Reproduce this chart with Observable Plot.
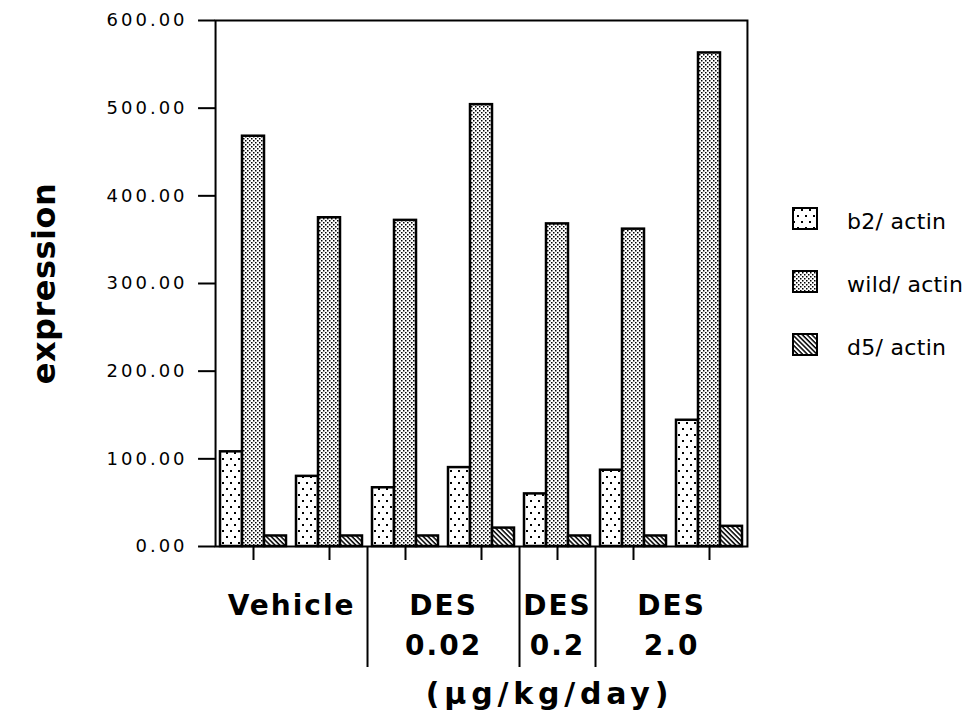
<!DOCTYPE html>
<html>
<head>
<meta charset="utf-8">
<script src="https://cdn.jsdelivr.net/npm/d3@7"></script>
<script src="https://cdn.jsdelivr.net/npm/@observablehq/plot@0.6"></script>
<style>
  body { margin: 0; background: #fff; }
  #wrap { position: relative; width: 974px; height: 719px; overflow: hidden; }
  #legend { position: absolute; left: 0; top: 0; }
  .swatch { position: absolute; }
  .ltext { position: absolute; font-family: "DejaVu Sans", sans-serif; font-size: 22px; line-height: 22px; color: #000; white-space: nowrap; letter-spacing: 0.3px; }
  g[aria-label="y-axis tick label"] text { font-size: 18px; letter-spacing: 3px; }
  text[aria-label="group label"] { letter-spacing: 2px; }
  text[aria-label="unit label"] { letter-spacing: 4.8px; }
  text[aria-label="y title"] { letter-spacing: 0.5px; }
</style>
</head>
<body>
<svg width="0" height="0" style="position:absolute">
  <defs>
    <pattern id="pat-b2" width="8" height="12" patternUnits="userSpaceOnUse">
      <rect width="8" height="12" fill="#fff"/>
      <rect x="1" y="2" width="2" height="2" fill="#000"/>
      <rect x="5" y="8" width="2" height="2" fill="#000"/>
    </pattern>
    <pattern id="pat-wild" width="4" height="4" patternUnits="userSpaceOnUse">
      <rect width="4" height="4" fill="#fff"/>
      <rect x="0" y="0" width="1.5" height="1.5" fill="#000"/>
      <rect x="2" y="2" width="1.5" height="1.5" fill="#000"/>
    </pattern>
    <pattern id="pat-d5" width="3.4" height="3.4" patternUnits="userSpaceOnUse" patternTransform="rotate(45)">
      <rect width="3.4" height="3.4" fill="#fff"/>
      <rect x="0" y="0" width="3.4" height="1.5" fill="#000"/>
    </pattern>
  </defs>
</svg>
<div id="wrap"><div id="chart"></div><div id="legend"></div></div>
<script>
// ---- data ----
const samples = ["Vehicle 1", "Vehicle 2", "DES 0.02 1", "DES 0.02 2", "DES 0.2 1", "DES 2.0 1", "DES 2.0 2"];
const series = ["b2/actin", "wild/actin", "d5/actin"];
const b2 = [108, 80, 67, 90, 60, 87, 144];
const wild = [468, 375, 372, 504, 368, 362, 563];
const d5 = [12, 12, 12, 21, 12, 12, 23];
const groupLabels = ["Vehicle", "DES\n0.02", "DES\n0.2", "DES\n2.0"];
const groupSizes = [2, 2, 1, 2];
const yTicks = [0, 100, 200, 300, 400, 500, 600];
const yTitle = "expression";
const unitLabel = "(µg/kg/day)";
const legendLabels = ["b2/ actin", "wild/ actin", "d5/ actin"];
const patterns = ["url(#pat-b2)", "url(#pat-wild)", "url(#pat-d5)"];

// ---- tables ----
const values = [b2, wild, d5];
const rows = samples.flatMap((s, i) => series.map((k, j) => ({sample: s, series: k, value: values[j][i]})));
let start = 0;
const groups = groupLabels.map((label, g) => {
  const d = {label, first: samples[start], size: groupSizes[g]};
  start += groupSizes[g];
  return d;
});
const dividers = groups.slice(1).map(d => d.first);

// ---- layout ----
const W = 974, H = 719, mL = 215, mR = 226, mT = 20, mB = 173;
const pIn = 0.13, pOut = 0.065;
const step = (W - mL - mR) / (samples.length - pIn + 2 * pOut);
const inner = step * (1 - pIn) / 3;
const outerOff = pOut * step;

const marks = [
  Plot.barY(rows, {fx: "sample", x: "series", y: "value", fill: "series", stroke: "#000", strokeWidth: 2.5}),
  Plot.frame({facet: "super", stroke: "#000", strokeWidth: 2, insetLeft: -outerOff, insetRight: -outerOff}),
  Plot.axisY(yTicks, {
    tickFormat: d3.format(".2f"), tickSize: 17, tickPadding: 11, fontSize: 18,
    strokeWidth: 2, label: null, dx: -outerOff
  }),
  Plot.axisFx({anchor: "bottom", tickSize: 14, strokeWidth: 2, tickFormat: () => "", label: null}),
  Plot.ruleX(dividers, {
    fx: d => d, x: () => series[0], y1: 0, y2: 0, insetBottom: -121,
    dx: -(inner / 2 + step * pIn / 2), stroke: "#000", strokeWidth: 2
  }),
  ...groups.map(g => Plot.text([g], {
    fx: "first", text: "label", frameAnchor: "bottom", lineAnchor: "top",
    dy: 40, dx: (g.size - 1) * step / 2, lineHeight: 1.43,
    fontSize: 28, fontWeight: "bold", fill: "#000", ariaLabel: () => "group label"
  })),
  Plot.text([unitLabel], {
    fx: () => samples[4], text: d => d, frameAnchor: "bottom", lineAnchor: "top",
    dy: 136, dx: -8, fontSize: 30, fontWeight: "bold", fill: "#000", ariaLabel: () => "unit label"
  }),
  Plot.text([yTitle], {
    fx: () => samples[0], text: d => d, frameAnchor: "left", rotate: -90, lineAnchor: "middle",
    textAnchor: "middle", dx: -(mL + outerOff - 44), fontSize: 32, fontWeight: "bold",
    fill: "#000", ariaLabel: () => "y title"
  })
];

const chart = Plot.plot({
  width: W, height: H,
  marginLeft: mL, marginRight: mR, marginTop: mT, marginBottom: mB,
  style: {fontFamily: "DejaVu Sans", color: "#000", background: "#fff", overflow: "visible"},
  fx: {domain: samples, paddingInner: pIn, paddingOuter: pOut, label: null},
  x: {domain: series, padding: 0, axis: null},
  y: {domain: [0, 600], label: null},
  color: {domain: series, range: patterns},
  marks
});
document.getElementById("chart").appendChild(chart);

// ---- legend ----
const legend = document.getElementById("legend");
series.forEach((s, i) => {
  const top = 207 + i * 63;
  const sw = document.createElementNS("http://www.w3.org/2000/svg", "svg");
  sw.setAttribute("class", "swatch");
  sw.setAttribute("width", 27);
  sw.setAttribute("height", 24);
  sw.style.left = "792px";
  sw.style.top = top + "px";
  const r = document.createElementNS("http://www.w3.org/2000/svg", "rect");
  r.setAttribute("x", 1); r.setAttribute("y", 1);
  r.setAttribute("width", 24); r.setAttribute("height", 21);
  r.setAttribute("fill", patterns[i]);
  r.setAttribute("stroke", "#000"); r.setAttribute("stroke-width", 2);
  sw.appendChild(r);
  legend.appendChild(sw);
  const t = document.createElement("div");
  t.className = "ltext";
  t.textContent = legendLabels[i];
  t.style.left = "847px";
  t.style.top = (top + 4) + "px";
  legend.appendChild(t);
});
</script>
</body>
</html>
